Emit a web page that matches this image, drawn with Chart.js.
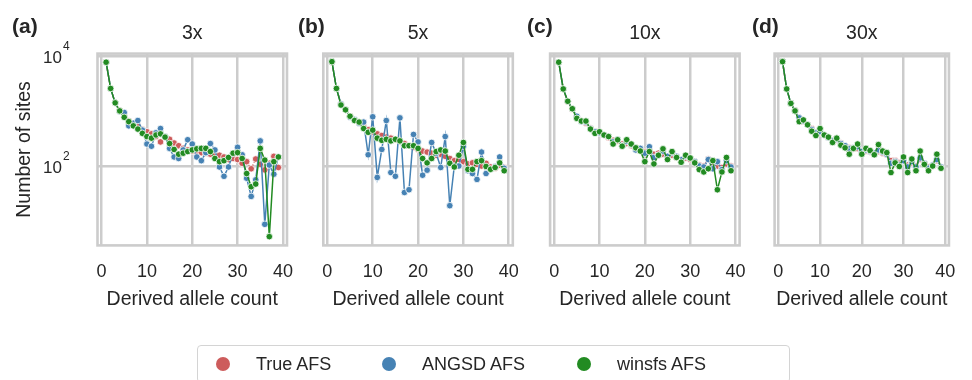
<!DOCTYPE html>
<html><head><meta charset="utf-8">
<script src="https://cdn.jsdelivr.net/npm/chart.js@4.4.1/dist/chart.umd.min.js"></script>
<style>
html,body{margin:0;padding:0;background:#fff;width:972px;height:380px;overflow:hidden;font-family:"Liberation Sans",Arial,sans-serif;color:#262626}
canvas{position:absolute;left:0;top:0}
.plab{position:absolute;font-weight:bold;font-size:21px;line-height:21px;top:15px}
#legend{position:absolute;left:197px;top:345px;width:593px;height:38px;border:1.5px solid #d4d4d4;border-radius:4px;box-sizing:border-box}
.dot{position:absolute;width:14px;height:14px;border-radius:50%;top:11px}
.ltxt{position:absolute;font-size:18px;line-height:18px;top:9px}
</style></head><body>
<div id="wrap"></div>
<div class="plab" style="left:12px">(a)</div>
<div class="plab" style="left:298px">(b)</div>
<div class="plab" style="left:527px">(c)</div>
<div class="plab" style="left:752px">(d)</div>
<div id="legend">
  <div class="dot" style="left:18px;background:#cd5c5c"></div><div class="ltxt" style="left:58px">True AFS</div>
  <div class="dot" style="left:184px;background:#4682b4"></div><div class="ltxt" style="left:224px">ANGSD AFS</div>
  <div class="dot" style="left:379px;background:#228b22"></div><div class="ltxt" style="left:419px">winsfs AFS</div>
</div>
<script>
// ---- data ----
const alleleCounts = [1,2,3,4,5,6,7,8,9,10,11,12,13,14,15,16,17,18,19,20,21,22,23,24,25,26,27,28,29,30,31,32,33,34,35,36,37,38,39];
const panelTitles = ['3x','5x','10x','30x'];
const xTickValues = [0,10,20,30,40];
const yTickValues = [100,10000];
const seriesNames = ['True AFS','ANGSD AFS','winsfs AFS'];

const true3x   = [7710,2570,1406,1005,803,656,600,525,458,420,384,343,274,343,306,262,234,209,196,187,183,175,171,164,171,157,146,131,137,131,112,120,89,134,107,85,112,150,94];
const angsd3x  = [7710,2570,1406,982,939,537,600,671,449,251,229,401,480,343,209,146,137,196,300,251,146,125,175,256,196,96,65,96,171,219,160,60,28,56,286,8.7,104,71,146];
const winsfs3x = [7710,2570,1406,1005,768,641,537,469,392,343,321,366,384,335,256,200,164,171,183,196,205,209,209,183,137,120,125,143,171,175,137,73,42,47,209,128,5.2,120,146];

const true5x   = [7710,2570,1343,1050,803,687,600,525,458,420,384,358,335,321,300,280,256,234,219,200,187,179,171,157,164,150,137,125,131,120,109,114,107,100,112,96,91,104,94];
const angsd5x  = [7890,2570,1343,1050,768,702,600,628,160,785,62,200,671,76,65,750,33,37,375,274,68,84,268,171,94,343,19,100,100,229,82,73,57,179,73,87,98,146,91];
const winsfs5x = [7890,2570,1285,1050,803,671,628,480,410,449,321,293,306,286,306,286,234,234,234,209,137,114,137,183,196,187,112,96,157,268,87,87,120,125,98,87,94,114,82];

const true10x   = [7710,2518,1469,1074,785,656,600,491,429,401,366,328,293,286,251,256,234,214,196,179,187,164,171,164,150,157,143,131,140,131,120,104,100,134,112,100,94,109,100];
const angsd10x  = [7710,2518,1503,1099,803,641,628,480,420,401,366,343,274,306,234,280,245,196,209,171,224,143,157,187,150,175,150,131,150,140,120,100,96,131,89,120,86,125,96];
const winsfs10x = [7710,2518,1503,1099,734,656,656,469,392,420,366,343,251,300,229,300,251,214,187,120,183,109,157,205,131,183,143,117,157,140,114,86,78,89,125,37,78,143,82];

const true30x   = [7890,2518,1374,1028,750,641,561,480,410,401,366,328,293,293,262,234,214,205,209,187,187,179,171,183,171,160,125,125,114,125,104,114,100,131,112,96,100,125,96];
const angsd30x  = [7890,2518,1374,1005,750,656,561,458,401,420,366,328,286,306,256,234,205,214,224,183,196,183,171,196,179,164,112,120,104,125,96,120,96,140,112,91,104,131,96];
const winsfs30x = [7890,2518,1374,1005,641,687,561,429,358,480,366,335,268,321,239,214,164,209,251,164,209,191,160,245,187,175,76,114,98,146,76,134,82,187,107,82,100,164,91];

const panels = [
  {title:panelTitles[0], series:[true3x, angsd3x, winsfs3x]},
  {title:panelTitles[1], series:[true5x, angsd5x, winsfs5x]},
  {title:panelTitles[2], series:[true10x, angsd10x, winsfs10x]},
  {title:panelTitles[3], series:[true30x, angsd30x, winsfs30x]}
];

// ---- style / layout ----
const FONT = '"Liberation Sans", Arial, sans-serif';
const TXT = '#262626';
const GRID = '#cccccc';
const colors = ['#cd5c5c','#4682b4','#228b22'];
const panelLeft = [97.5, 323.3, 550.1, 774.6];
const panelWidth = 189.5;
const W = 972, H = 380;

const framePlugin = {
  id:'frame',
  beforeDatasetsDraw(chart){
    const a = chart.chartArea, ctx = chart.ctx;
    ctx.save(); ctx.strokeStyle = GRID; ctx.lineWidth = 2.6;
    ctx.strokeRect(a.left, a.top, a.right - a.left, a.bottom - a.top);
    ctx.restore();
  }
};
const yLabelPlugin = {
  id:'yLabels',
  afterDraw(chart, args, opts){
    if(!opts.show) return;
    const ys = chart.scales.y, ctx = chart.ctx, left = chart.chartArea.left;
    ctx.save(); ctx.fillStyle = TXT; ctx.textBaseline = 'middle';
    yTickValues.forEach(v => {
      const py = ys.getPixelForValue(v);
      const exp = String(Math.round(Math.log10(v)));
      ctx.font = '17px ' + FONT; ctx.textAlign = 'right';
      ctx.fillText('10', left - 35.5, py + 2.3);
      ctx.font = '12px ' + FONT; ctx.textAlign = 'left';
      ctx.fillText(exp, left - 34.5, py - 9.7);
    });
    ctx.restore();
  }
};

const wrap = document.getElementById('wrap');
panels.forEach((p, i) => {
  const cv = document.createElement('canvas');
  cv.width = W; cv.height = H;
  wrap.appendChild(cv);
  const first = i === 0;
  const yAxisW = first ? 87.5 : 0;
  const L = panelLeft[i];
  new Chart(cv, {
    type:'line',
    data:{
      datasets: p.series.map((vals, k) => ({
        label: seriesNames[k],
        data: alleleCounts.map((x, j) => ({x: x, y: vals[j]})),
        borderColor: colors[k],
        backgroundColor: colors[k],
        pointBackgroundColor: colors[k],
        pointBorderColor: '#ffffff',
        pointBorderWidth: 0.8,
        pointRadius: 3.3,
        borderWidth: 1.5,
        borderDash: k === 0 ? [3.5, 2] : [],
        tension: 0,
        order: 3 - k
      }))
    },
    options:{
      responsive:false, animation:false, devicePixelRatio:1,
      layout:{padding:{left: L - yAxisW, right: W - (L + panelWidth), top: 12.3, bottom: 64.6}},
      plugins:{
        legend:{display:false}, tooltip:{enabled:false},
        title:{display:true, text:p.title, fullSize:false, color:TXT,
               font:{family:FONT, size:19.5, weight:'normal'}, padding:{top:10, bottom:7.9}},
        yLabels:{show:first}
      },
      scales:{
        x:{type:'linear', min:-0.9, max:40.9,
           afterBuildTicks: s => { s.ticks = xTickValues.map(v => ({value:v})); },
           afterFit: s => { s.height = 70; },
           grid:{color:GRID, lineWidth:2.5, drawTicks:false},
           border:{display:false},
           ticks:{color:TXT, font:{family:FONT, size:18}, padding:16.3, maxRotation:0},
           title:{display:true, text:'Derived allele count', color:TXT,
                  font:{family:FONT, size:19.5}, padding:{top:0, bottom:3.7}}
        },
        y:{type:'logarithmic', min:3.6, max:11060,
           afterBuildTicks: s => { s.ticks = yTickValues.map(v => ({value:v})); },
           afterFit: s => { s.width = yAxisW; },
           grid:{color:GRID, lineWidth:2.5, drawTicks:false},
           border:{display:false},
           ticks:{display:false},
           title:{display:first, text:'Number of sites', color:TXT,
                  font:{family:FONT, size:19.5}, padding:{top:3.3, bottom:0}}
        }
      }
    },
    plugins:[framePlugin, yLabelPlugin]
  });
});
</script>
</body></html>
